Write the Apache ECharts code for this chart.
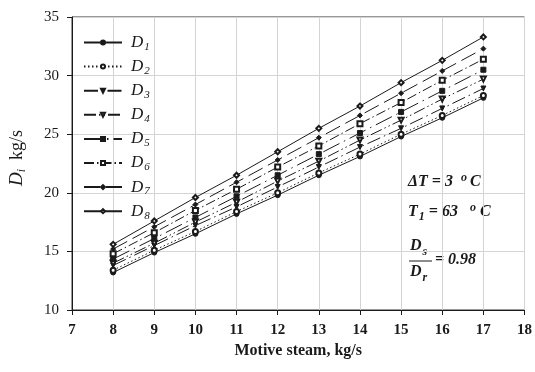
<!DOCTYPE html>
<html>
<head>
<meta charset="utf-8">
<script src="https://cdn.jsdelivr.net/npm/echarts@6/dist/echarts.min.js"></script>
<style>
  html, body { margin: 0; padding: 0; background: #fff; }
  #chart { width: 535px; height: 372px; }
</style>
</head>
<body>
<div id="chart"></div>
<script>
// motive steam (x)
var steam = [8, 9, 10, 11, 12, 13, 14, 15, 16, 17];

// Di, kg/s
var D1 = [13.2, 14.9, 16.5, 18.2, 19.8, 21.5, 23.1, 24.8, 26.4, 28.1];
var D2 = [13.4, 15.1, 16.7, 18.4, 20.0, 21.7, 23.3, 25.0, 26.6, 28.3];
var D3 = [13.8, 15.5, 17.2, 18.8, 20.5, 22.2, 23.9, 25.5, 27.2, 28.9];
var D4 = [14.0, 15.7, 17.5, 19.2, 21.0, 22.7, 24.5, 26.2, 28.0, 29.7];
var D5 = [14.35, 16.1, 17.9, 19.7, 21.5, 23.3, 25.1, 26.9, 28.7, 30.5];
var D6 = [14.8, 16.6, 18.5, 20.3, 22.2, 24.0, 25.9, 27.7, 29.6, 31.4];
var D7 = [15.2, 17.1, 19.0, 20.9, 22.8, 24.7, 26.6, 28.5, 30.4, 32.3];
var D8 = [15.6, 17.6, 19.6, 21.5, 23.5, 25.5, 27.4, 29.4, 31.3, 33.3];

var xTicks = [7, 18, 1];
var yTicks = [10, 35, 5];

var serif = '"Liberation Serif", "DejaVu Serif", serif';
var ink = '#1a1a1a';

// 线型 / 标记
var styles = [
  { name: 'D1', data: D1, symbol: 'circle', rot: 0, dash: 'solid' },
  { name: 'D2', data: D2, symbol: 'emptyCircle', rot: 0, dash: [1.5, 2.5] },
  { name: 'D3', data: D3, symbol: 'triangle', rot: 180, dash: [14, 4, 1.5, 4] },
  { name: 'D4', data: D4, symbol: 'emptyTriangle', rot: 180, dash: [12, 3, 1.5, 3, 1.5, 3] },
  { name: 'D5', data: D5, symbol: 'rect', rot: 0, dash: [18, 5, 1.5, 5] },
  { name: 'D6', data: D6, symbol: 'emptyRect', rot: 0, dash: [10, 3, 1.5, 3] },
  { name: 'D7', data: D7, symbol: 'diamond', rot: 0, dash: [16, 6] },
  { name: 'D8', data: D8, symbol: 'emptyDiamond', rot: 0, dash: 'solid' }
];

var series = [];
for (var i = 0; i < styles.length; i++) {
  var s = styles[i];
  var pts = [];
  for (var j = 0; j < steam.length; j++) pts.push([steam[j], s.data[j]]);
  series.push({
    name: s.name,
    type: 'line',
    data: pts,
    symbol: s.symbol,
    symbolRotate: s.rot,
    symbolSize: 5,
    showSymbol: true,
    animation: false,
    itemStyle: { color: ink, borderColor: ink, borderWidth: 1 },
    lineStyle: { color: ink, width: 1, type: s.dash }
  });
}

var chart = echarts.init(document.getElementById('chart'));

chart.setOption({
  animation: false,
  grid: {
    left: 72, right: 7, top: 17, bottom: 62,
    show: true, borderColor: '#333', borderWidth: 1
  },
  legend: {
    orient: 'vertical',
    left: 78, top: 29,
    itemWidth: 38, itemHeight: 5, itemGap: 5.6,
    data: styles.map(function (s) { return s.name; }),
    formatter: function (name) {
      return '{d|D}{s|' + name.slice(1) + '}';
    },
    textStyle: {
      rich: {
        d: { fontFamily: serif, fontStyle: 'italic', fontSize: 17, lineHeight: 20, color: ink, padding: [0, 0, 0, 4], verticalAlign: 'middle' },
        s: { fontFamily: serif, fontStyle: 'italic', fontSize: 11, lineHeight: 11, color: ink, padding: [0, 0, 0, 1], verticalAlign: 'bottom' }
      }
    }
  },
  xAxis: {
    type: 'value',
    min: xTicks[0], max: xTicks[1], interval: xTicks[2],
    name: 'Motive steam, kg/s',
    nameLocation: 'middle',
    nameGap: 32,
    nameTextStyle: { fontFamily: serif, fontWeight: 'bold', fontSize: 16, color: ink },
    axisLine: { lineStyle: { color: ink } },
    axisTick: { inside: false, length: 5, lineStyle: { color: ink } },
    axisLabel: { fontFamily: serif, fontWeight: 'bold', fontSize: 15, color: ink, margin: 13 },
    splitLine: { lineStyle: { color: '#d4d4d4' } }
  },
  yAxis: {
    type: 'value',
    min: yTicks[0], max: yTicks[1], interval: yTicks[2],
    axisLine: { show: true, lineStyle: { color: ink } },
    axisTick: { show: true, length: 5, lineStyle: { color: ink } },
    axisLabel: { fontFamily: serif, fontSize: 15, color: ink, margin: 13 },
    splitLine: { lineStyle: { color: '#d4d4d4' } }
  },
  graphic: [
    {
      type: 'text', x: 17, y: 158, rotation: Math.PI / 2,
      style: {
        text: '{d|D}{s|i}{u|  kg/s}',
        align: 'center', verticalAlign: 'middle',
        rich: {
          d: { fontFamily: serif, fontStyle: 'italic', fontSize: 19, lineHeight: 22, fill: ink, verticalAlign: 'middle' },
          s: { fontFamily: serif, fontStyle: 'italic', fontSize: 12, lineHeight: 12, fill: ink, verticalAlign: 'bottom' },
          u: { fontFamily: serif, fontSize: 18, lineHeight: 22, fill: ink, verticalAlign: 'middle' }
        }
      }
    },
    {
      type: 'text', left: 408, top: 172,
      style: {
        text: '{t|ΔT = 3  }{o|o}{t|C}',
        rich: {
          t: { fontFamily: serif, fontStyle: 'italic', fontWeight: 'bold', fontSize: 16, fill: ink },
          o: { fontFamily: serif, fontStyle: 'italic', fontWeight: 'bold', fontSize: 12, fill: ink, padding: [0, 3, 8, 0] }
        }
      }
    },
    {
      type: 'text', left: 408, top: 202,
      style: {
        text: '{t|T}{s|1}{t| = 63   }{o|o}{t| C}',
        rich: {
          t: { fontFamily: serif, fontStyle: 'italic', fontWeight: 'bold', fontSize: 16, fill: ink },
          s: { fontFamily: serif, fontStyle: 'italic', fontWeight: 'bold', fontSize: 12, fill: ink, padding: [10, 0, 0, 1] },
          o: { fontFamily: serif, fontStyle: 'italic', fontWeight: 'bold', fontSize: 12, fill: ink, padding: [0, 0, 8, 0] }
        }
      }
    },
    {
      type: 'text', left: 410, top: 238,
      style: {
        text: '{t|D}{s|s}',
        rich: {
          t: { fontFamily: serif, fontStyle: 'italic', fontWeight: 'bold', fontSize: 16, fill: ink },
          s: { fontFamily: serif, fontStyle: 'italic', fontWeight: 'bold', fontSize: 12, fill: ink, padding: [12, 0, 0, 1] }
        }
      }
    },
    {
      type: 'line', shape: { x1: 409, y1: 261, x2: 432, y2: 261 },
      style: { stroke: ink, lineWidth: 1 }
    },
    {
      type: 'text', left: 410, top: 264,
      style: {
        text: '{t|D}{s|r}',
        rich: {
          t: { fontFamily: serif, fontStyle: 'italic', fontWeight: 'bold', fontSize: 16, fill: ink },
          s: { fontFamily: serif, fontStyle: 'italic', fontWeight: 'bold', fontSize: 12, fill: ink, padding: [12, 0, 0, 1] }
        }
      }
    },
    {
      type: 'text', left: 435, top: 252,
      style: {
        text: '= 0.98',
        font: 'italic bold 16px ' + serif,
        fill: ink
      }
    }
  ],
  series: series
});
</script>
</body>
</html>
